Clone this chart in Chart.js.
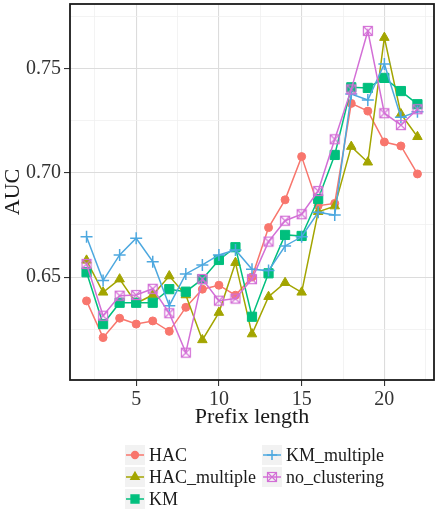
<!DOCTYPE html>
<html>
<head>
<meta charset="utf-8">
<script src="https://cdn.jsdelivr.net/npm/chart.js@4/dist/chart.umd.min.js"></script>
<style>
  html, body { margin: 0; padding: 0; background: #fff; }
  #wrap { width: 435px; height: 515px; }
</style>
</head>
<body>
<div id="wrap"><canvas id="aucChart" width="435" height="515"></canvas></div>
<script>
const prefixLengths = [2, 3, 4, 5, 6, 7, 8, 9, 10, 11, 12, 13, 14, 15, 16, 17, 18, 19, 20, 21, 22];
const seriesNames = ["HAC", "HAC_multiple", "KM", "KM_multiple", "no_clustering"];
const hac = [0.6386, 0.6210, 0.6303, 0.6275, 0.6290, 0.6240, 0.6355, 0.6442, 0.6461, 0.6413, 0.6500,
  0.6737, 0.6870, 0.7077, 0.6842, 0.6853, 0.7332, 0.7295, 0.7147, 0.7128, 0.6994];
const hacMultiple = [0.6580, 0.6427, 0.6490, 0.6375, 0.6414, 0.6505, 0.6414, 0.6199, 0.6330, 0.6569, 0.6227,
  0.6406, 0.6473, 0.6427, 0.6813, 0.6840, 0.7125, 0.7050, 0.7647, 0.7281, 0.7172];
const km = [0.6523, 0.6275, 0.6377, 0.6377, 0.6377, 0.6442, 0.6430, 0.6490, 0.6582, 0.6643, 0.6310,
  0.6518, 0.6702, 0.6697, 0.6874, 0.7085, 0.7409, 0.7406, 0.7454, 0.7391, 0.7328];
const kmMultiple = [0.6693, 0.6483, 0.6606, 0.6686, 0.6574, 0.6363, 0.6515, 0.6558, 0.6606, 0.6630, 0.6537,
  0.6531, 0.6649, 0.6693, 0.6810, 0.6797, 0.7377, 0.7348, 0.7521, 0.7265, 0.7292];
const noClustering = [0.6563, 0.6315, 0.6411, 0.6414, 0.6444, 0.6327, 0.6138, 0.6491, 0.6387, 0.6397, 0.6490,
  0.6670, 0.6770, 0.6801, 0.6912, 0.7160, 0.7399, 0.7679, 0.7285, 0.7228, 0.7304];
const xMajorTicks = [5, 10, 15, 20];
const xMinorTicks = [2.5, 7.5, 12.5, 17.5, 22.5];
const yMajorTicks = [0.65, 0.70, 0.75];
const yMinorTicks = [0.625, 0.675, 0.725, 0.775];

const colors = ["#F8766D", "#A3A500", "#00BF7D", "#4DA8DF", "#D36FD6"];
const serif = "'Liberation Serif', 'Times New Roman', serif";

// square with an X inside, for no_clustering
function boxCross(color) {
    const c = document.createElement("canvas");
    c.width = 12; c.height = 12;
    const g = c.getContext("2d");
    g.strokeStyle = color;
    g.lineWidth = 1.2;
    g.strokeRect(1.5, 1.5, 9, 9);
    g.beginPath();
    g.moveTo(1.5, 1.5); g.lineTo(10.5, 10.5);
    g.moveTo(10.5, 1.5); g.lineTo(1.5, 10.5);
    g.stroke();
    return c;
}

const allSeries = [hac, hacMultiple, km, kmMultiple, noClustering];
const pointStyles = ["circle", "triangle", "rect", "cross", boxCross(colors[4])];
const pointRadius = [4, 5.5, 6.5, 6, 6];

const datasets = allSeries.map(function (vals, i) {
    return {
        label: seriesNames[i],
        data: vals.map(function (v, j) { return { x: prefixLengths[j], y: v }; }),
        borderColor: colors[i],
        backgroundColor: colors[i],
        borderWidth: 1.5,
        pointStyle: pointStyles[i],
        pointRadius: pointRadius[i],
        pointHoverRadius: pointRadius[i],
        pointBorderWidth: i === 3 ? 1.5 : 1,
        order: 4 - i,
        tension: 0
    };
});

function isMajor(list, v) {
    return list.some(function (m) { return Math.abs(m - v) < 1e-6; });
}

function noPad(s) {
    s.paddingTop = 0;
    s.paddingBottom = 0;
    s.paddingLeft = 0;
    s.paddingRight = 0;
}

const frame = {
    id: "frame",
    afterDatasetsDraw(chart) {
        const a = chart.chartArea;
        const ctx = chart.ctx;
        ctx.save();
        ctx.strokeStyle = "#1a1a1a";
        ctx.lineWidth = 1.8;
        ctx.strokeRect(a.left, a.top, a.right - a.left, a.bottom - a.top);
        ctx.restore();
    }
};

const ggLegend = {
    id: "ggLegend",
    afterDraw(chart) {
        const ctx = chart.ctx;
        const cols = [125, 262];
        const rows = [445, 467, 489];
        const slots = [[0, 0], [0, 1], [0, 2], [1, 0], [1, 1]];
        ctx.save();
        chart.data.datasets.forEach(function (ds, i) {
            const bx = cols[slots[i][0]];
            const by = rows[slots[i][1]];
            ctx.fillStyle = "#f2f2f2";
            ctx.fillRect(bx, by, 20, 20);
            ctx.strokeStyle = ds.borderColor;
            ctx.lineWidth = 1.5;
            ctx.beginPath();
            ctx.moveTo(bx + 1, by + 10);
            ctx.lineTo(bx + 19, by + 10);
            ctx.stroke();
            ctx.fillStyle = ds.backgroundColor;
            Chart.helpers.drawPoint(ctx, {
                pointStyle: ds.pointStyle,
                radius: ds.pointRadius * 0.85,
                borderWidth: ds.pointBorderWidth,
                rotation: 0
            }, bx + 10, by + 10);
            ctx.fillStyle = "#1a1a1a";
            ctx.font = "18px " + serif;
            ctx.textBaseline = "middle";
            ctx.textAlign = "left";
            ctx.fillText(ds.label, bx + 24, by + 11);
        });
        ctx.restore();
    }
};

new Chart(document.getElementById("aucChart"), {
    type: "line",
    data: { datasets: datasets },
    plugins: [frame, ggLegend],
    options: {
        responsive: false,
        animation: false,
        events: [],
        layout: { autoPadding: false, padding: { top: 4, right: 1, left: 0, bottom: 85 } },
        plugins: { legend: { display: false }, tooltip: { enabled: false } },
        scales: {
            x: {
                type: "linear",
                min: 1,
                max: 23,
                afterBuildTicks: function (s) {
                    s.ticks = xMinorTicks.concat(xMajorTicks).sort(function (a, b) { return a - b; })
                        .map(function (v) { return { value: v }; });
                },
                afterFit: function (s) { s.height = 50; noPad(s); },
                border: { display: false },
                grid: {
                    drawTicks: true,
                    tickLength: 6,
                    color: function (c) { return isMajor(xMajorTicks, c.tick.value) ? "#dcdcdc" : "#f0f0f0"; },
                    lineWidth: function (c) { return isMajor(xMajorTicks, c.tick.value) ? 1.1 : 0.8; },
                    tickColor: function (c) { return isMajor(xMajorTicks, c.tick.value) ? "#333" : "rgba(0,0,0,0)"; }
                },
                ticks: {
                    autoSkip: false,
                    maxRotation: 0,
                    padding: 2,
                    color: "#333",
                    font: { family: serif, size: 20 },
                    callback: function (v) { return isMajor(xMajorTicks, v) ? String(v) : ""; }
                },
                title: {
                    display: true,
                    text: "Prefix length",
                    color: "#1a1a1a",
                    font: { family: serif, size: 22 },
                    padding: { top: 0, bottom: 0 }
                }
            },
            y: {
                type: "linear",
                min: 0.6007,
                max: 0.7808,
                afterBuildTicks: function (s) {
                    s.ticks = yMinorTicks.concat(yMajorTicks).sort(function (a, b) { return a - b; })
                        .map(function (v) { return { value: v }; });
                },
                afterFit: function (s) { s.width = 70; noPad(s); },
                border: { display: false },
                grid: {
                    drawTicks: true,
                    tickLength: 6,
                    color: function (c) { return isMajor(yMajorTicks, c.tick.value) ? "#dcdcdc" : "#f0f0f0"; },
                    lineWidth: function (c) { return isMajor(yMajorTicks, c.tick.value) ? 1.1 : 0.8; },
                    tickColor: function (c) { return isMajor(yMajorTicks, c.tick.value) ? "#333" : "rgba(0,0,0,0)"; }
                },
                ticks: {
                    autoSkip: false,
                    padding: 3,
                    color: "#333",
                    font: { family: serif, size: 20 },
                    callback: function (v) { return isMajor(yMajorTicks, v) ? v.toFixed(2) : ""; }
                },
                title: {
                    display: true,
                    text: "AUC",
                    color: "#1a1a1a",
                    font: { family: serif, size: 22 },
                    padding: { top: 0, bottom: 0 }
                }
            }
        }
    }
});
</script>
</body>
</html>
